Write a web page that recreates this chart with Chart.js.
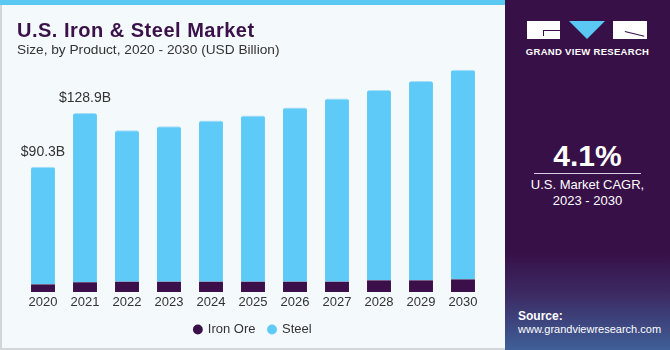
<!DOCTYPE html>
<html>
<head>
<meta charset="utf-8">
<script src="https://cdn.jsdelivr.net/npm/chart.js@4"></script>
<style>
  html, body { margin: 0; padding: 0; }
  body { width: 670px; height: 350px; position: relative; overflow: hidden; background: #f4f9fc; font-family: "Liberation Sans", Arial, sans-serif; }
  #left { position: absolute; left: 0; top: 0; width: 505px; height: 350px; background: #f4f9fc; box-sizing: border-box; border-left: 2px solid #d2d6d9; border-bottom: 2px solid #d2d6d9; }
  #stripe { position: absolute; left: 0; top: 0; width: 505px; height: 5px; background: #5bc8f4; }
  #chartBox { position: absolute; left: 0; top: 0; width: 505px; height: 350px; }
  #title { position: absolute; left: 17px; top: 19px; font-size: 20px; letter-spacing: 0.5px; font-weight: bold; color: #3a1149; }
  #subtitle { position: absolute; left: 17px; top: 42px; font-size: 13.7px; color: #333; }
  #panel { position: absolute; left: 505px; top: 0; width: 165px; height: 350px;
    background: linear-gradient(to bottom, #371047 0%, #371047 72%, #3c2a63 84%, #3f5f98 100%); color: #fff; text-align: center; }
  .blk { position: absolute; top: 21px; height: 18px; background: #fff; }
  .cut { position: absolute; background: #371047; }
  #tri { position: absolute; left: 64px; top: 21px; width: 0; height: 0; border-left: 18px solid transparent; border-right: 18px solid transparent; border-top: 18px solid #5bc8f4; }
  #brand { position: absolute; left: 0; width: 165px; top: 46px; font-size: 9.5px; font-weight: bold; letter-spacing: 0.3px; }
  #cagr { position: absolute; left: 0; width: 165px; top: 139px; font-size: 30px; font-weight: bold; }
  #rule { position: absolute; left: 29px; width: 107px; top: 173px; height: 1px; background: #d8cfe0; }
  #cagrText { position: absolute; left: 0; width: 165px; top: 177px; font-size: 13px; line-height: 16px; }
  #source { position: absolute; left: 13px; top: 310px; font-size: 11px; line-height: 13px; text-align: left; }
  #source b { font-size: 12px; }
</style>
</head>
<body>
<div id="left"></div>
<div id="stripe"></div>
<div id="chartBox"><canvas id="chart" width="505" height="350"></canvas></div>
<div id="title">U.S. Iron &amp; Steel Market</div>
<div id="subtitle">Size, by Product, 2020 - 2030 (USD Billion)</div>
<div id="panel">
  <div class="blk" style="left:22px;width:33px;">
    <div class="cut" style="left:16px;top:9px;width:17px;height:1px;"></div>
    <div class="cut" style="left:16px;top:9px;width:1px;height:6px;"></div>
  </div>
  <div id="tri"></div>
  <div class="blk" style="left:108px;width:34px;">
    <div class="cut" style="left:12px;top:10px;width:20px;height:1px;transform:rotate(14deg);transform-origin:0 0;"></div>
  </div>
  <div id="brand">GRAND VIEW RESEARCH</div>
  <div id="cagr">4.1%</div>
  <div id="rule"></div>
  <div id="cagrText">U.S. Market CAGR,<br>2023 - 2030</div>
  <div id="source"><b>Source:</b><br>www.grandviewresearch.com</div>
</div>
<script>
const years = ["2020", "2021", "2022", "2023", "2024", "2025", "2026", "2027", "2028", "2029", "2030"];
const ironOre = [5.5, 7.0, 7.4, 7.4, 7.4, 7.4, 7.4, 7.4, 8.4, 8.4, 9.1];
const steel = [84.8, 121.9, 109.1, 112.0, 116.1, 119.7, 125.5, 132.0, 137.1, 143.6, 151.1];
const valueLabels = ["$90.3B", "$128.9B", "", "", "", "", "", "", "", "", ""];

// value text above the first two stacks
const topLabels = {
  id: "topLabels",
  afterDatasetsDraw(chart) {
    const ctx = chart.ctx;
    const meta = chart.getDatasetMeta(1);
    ctx.save();
    ctx.font = "14px 'Liberation Sans', Arial, sans-serif";
    ctx.fillStyle = "#333";
    ctx.textAlign = "center";
    ctx.textBaseline = "bottom";
    meta.data.forEach((bar, i) => {
      if (valueLabels[i]) ctx.fillText(valueLabels[i], bar.x, bar.y - 8);
    });
    ctx.restore();
  }
};

new Chart(document.getElementById("chart"), {
  type: "bar",
  data: {
    labels: years,
    datasets: [
      { label: "Iron Ore", data: ironOre, backgroundColor: "#3a0f4a", borderWidth: 0 },
      { label: "Steel", data: steel, backgroundColor: "#5ecaf7", borderColor: "#a6def5", borderWidth: { top: 1, left: 0, right: 0, bottom: 0 }, borderRadius: { topLeft: 2, topRight: 2 }, borderSkipped: "bottom" }
    ]
  },
  options: {
    responsive: false,
    animation: false,
    layout: { padding: { left: 22, right: 21, top: 63, bottom: 4 } },
    datasets: { bar: { barPercentage: 0.57, categoryPercentage: 1 } },
    scales: {
      x: {
        stacked: true,
        grid: { display: false, drawTicks: false },
        border: { display: false },
        ticks: { color: "#333", font: { family: "'Liberation Sans', Arial, sans-serif", size: 13 }, padding: 3 },
        afterFit(scale) { scale.height = 18; }
      },
      y: { stacked: true, display: false, min: 0, max: 165 }
    },
    plugins: {
      legend: {
        position: "bottom",
        labels: {
          usePointStyle: true,
          pointStyle: "circle",
          boxWidth: 7,
          boxHeight: 7,
          padding: 13,
          color: "#333",
          font: { family: "'Liberation Sans', Arial, sans-serif", size: 13 }
        }
      },
      tooltip: { enabled: false }
    }
  },
  plugins: [topLabels]
});
</script>
</body>
</html>
